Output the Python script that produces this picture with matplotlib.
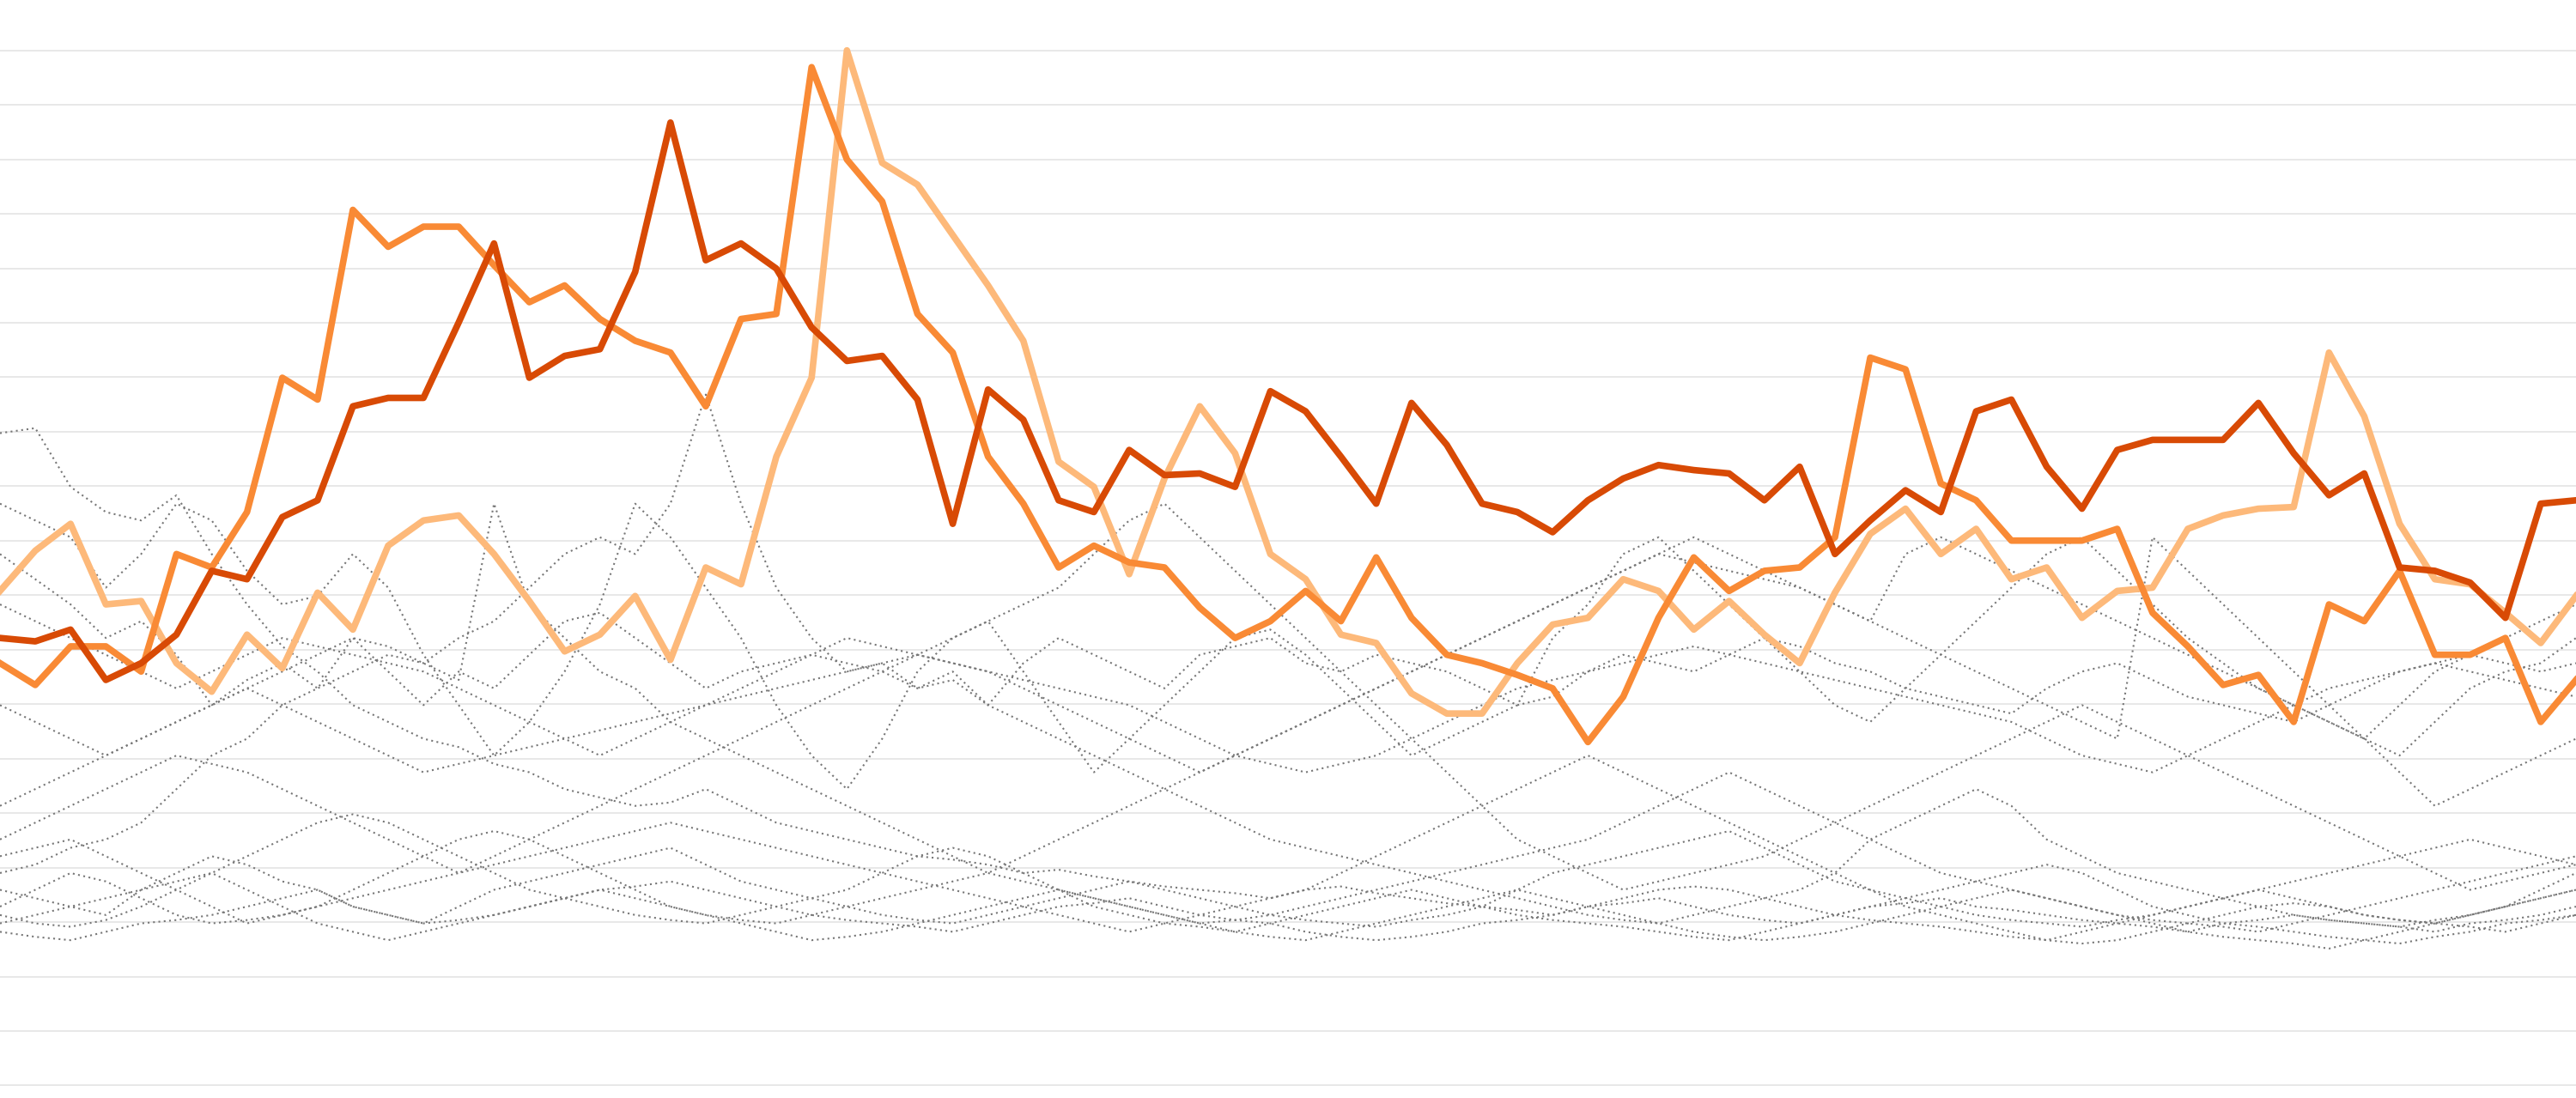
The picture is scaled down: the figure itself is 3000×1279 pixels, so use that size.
import matplotlib
matplotlib.use("Agg")
import matplotlib.pyplot as plt
import numpy as np

dark = [380,382,375,405,395,378,340,345,308,298,242,237,237,192,145,225,212,208,162,73,155,145,160,195,215,212,238,312,232,250,298,305,268,283,282,290,233,245,272,300,240,265,300,305,317,298,285,277,280,282,298,278,330,310,292,305,245,238,278,303,268,262,262,262,240,270,295,282,338,340,347,368,300,298]
mid = [395,408,385,385,400,330,338,305,225,238,125,147,135,135,158,180,170,190,203,210,242,190,187,40,95,120,187,210,272,300,338,325,335,338,362,380,370,352,370,332,368,390,395,402,410,442,415,368,332,352,340,338,320,213,220,288,298,322,322,322,315,365,385,408,402,430,360,370,340,390,390,380,430,405]
light = [352,328,312,360,358,395,412,378,398,353,375,325,310,307,330,358,388,378,355,393,338,348,272,225,30,97,110,140,170,203,275,290,342,285,242,270,330,345,378,383,413,425,425,395,372,368,345,352,375,358,378,395,353,318,303,330,315,345,338,368,352,350,315,307,303,302,210,248,312,345,348,365,383,355]

grays = [
[258,255,290,305,310,295,330,360,385,400,420,430,440,445,455,460,470,475,480,478,470,480,490,495,500,505,510,512,515,520,518,522,525,528,530,532,535,530,528,532,535,538,540,542,545,540,538,535,540,545,548,550,545,540,538,535,540,542,545,548,550,552,555,550,548,545,548,550,552,555,550,548,545,540],
[520,515,505,500,490,470,450,440,420,410,400,390,395,380,370,350,330,320,330,300,235,300,350,380,400,395,410,400,420,430,440,450,460,470,480,490,500,505,510,515,520,525,530,535,540,545,548,550,545,540,535,530,520,500,490,480,470,480,500,510,520,525,530,535,540,545,548,550,552,548,545,540,535,530],
[330,345,360,380,370,390,420,405,395,410,380,400,420,400,410,390,370,365,380,395,410,400,395,390,395,400,410,405,420,395,380,390,400,410,390,385,380,395,400,390,395,400,410,420,415,400,390,395,400,390,380,385,395,400,410,415,420,425,410,400,395,405,415,420,425,430,420,410,400,395,390,395,400,395],
[300,310,320,350,330,300,310,340,360,355,330,350,390,420,450,430,400,360,300,320,350,380,420,450,470,440,400,380,370,400,430,460,440,420,400,380,375,390,410,430,450,440,430,420,380,360,330,320,340,360,380,400,420,430,410,390,370,350,330,320,340,360,380,395,410,420,430,440,450,430,410,400,395,380],
[530,535,540,545,530,520,510,515,525,530,540,545,550,540,530,525,520,515,510,505,515,525,530,535,540,545,548,550,545,540,535,530,525,530,535,540,545,548,550,552,548,545,540,530,520,515,510,505,500,495,505,515,525,530,535,540,545,548,550,552,548,545,540,535,530,535,540,545,548,550,545,540,530,520],
[545,550,552,548,540,530,520,510,500,490,485,490,500,510,520,530,535,540,545,548,550,545,540,535,530,520,510,505,510,520,530,540,545,550,552,555,550,545,540,535,530,535,540,545,548,550,552,555,558,560,555,550,545,540,535,530,525,520,515,520,530,540,545,550,552,555,558,560,562,558,555,550,548,545],
[480,470,460,450,440,430,420,410,400,390,380,385,395,405,300,360,380,400,410,430,440,450,460,470,480,490,500,510,520,510,500,490,480,470,460,450,440,430,420,410,400,390,380,370,360,350,340,330,320,330,340,350,360,370,380,390,400,410,420,430,440,320,340,360,380,400,420,440,460,480,470,460,450,440],
[510,505,500,510,520,530,540,550,545,540,535,530,525,520,515,510,505,500,495,490,495,500,505,510,515,520,525,530,535,540,545,550,555,550,545,540,535,530,520,510,500,490,480,470,460,450,460,470,480,490,500,510,520,530,540,545,550,555,560,555,550,545,540,535,530,525,520,515,510,505,500,505,510,515],
[420,430,440,450,440,430,420,410,420,430,440,450,460,455,450,445,440,435,430,425,420,415,410,405,400,395,390,395,400,405,410,415,420,430,440,450,455,460,455,450,440,430,420,410,405,400,395,390,385,390,395,400,405,410,415,420,425,430,440,450,455,460,450,440,430,420,410,405,400,395,400,405,410,415],
[555,558,560,555,550,548,545,540,535,530,540,545,550,548,545,540,535,530,528,525,530,535,540,545,548,550,552,555,550,545,540,538,535,540,545,548,550,555,558,560,558,555,550,548,545,540,535,530,528,530,535,540,545,548,550,552,555,558,560,562,560,555,550,545,540,538,540,545,548,550,552,555,550,545],
[500,490,480,470,460,450,455,460,470,480,490,500,510,520,510,500,490,480,470,460,450,440,430,420,410,400,390,380,370,360,350,330,310,300,320,340,360,380,400,420,440,460,480,500,510,520,530,525,520,515,510,500,490,480,470,460,450,440,430,420,430,440,450,460,470,480,490,500,510,520,530,525,520,515],
[540,530,520,525,535,545,550,548,545,540,530,520,510,500,495,500,510,520,530,540,545,548,550,545,540,535,530,525,520,525,530,535,540,545,550,548,545,540,535,530,525,520,515,510,505,500,490,480,470,460,470,480,490,500,510,520,525,530,535,540,545,548,550,552,555,550,545,540,535,530,525,520,515,510],
[360,370,380,390,400,410,400,390,380,385,390,395,400,410,420,430,440,450,440,430,420,410,400,390,380,385,390,395,400,410,420,430,440,450,460,450,440,430,420,410,400,390,380,370,360,350,340,330,335,340,345,350,360,370,330,320,330,340,350,360,370,380,390,400,410,420,430,440,420,400,390,380,370,360],
[550,545,540,535,530,525,520,530,540,550,555,560,555,550,545,540,535,530,535,540,545,550,555,560,558,555,550,545,540,535,530,535,540,545,550,555,558,560,555,550,545,540,535,530,535,540,545,550,555,558,560,558,555,550,545,540,535,530,535,540,545,550,555,558,560,562,565,560,555,550,545,540,535,530],
]
grid_levels = [30 + 32.45 * k for k in range(20)]

fig = plt.figure(figsize=(30, 12.79), dpi=100)
ax = fig.add_axes([0, 0, 1, 1])
for g in grid_levels:
    ax.axhline(g, color="#e6e6e6", lw=1.3, zorder=0)
for s in grays:
    ax.plot(np.arange(len(s)), s, color="#777777", lw=1.5, ls=(0, (1, 2)), zorder=1)
for s, c in [(light, "#fdb97a"), (mid, "#f98a35"), (dark, "#d84a05")]:
    ax.plot(np.arange(len(s)), s, color=c, lw=5.5, zorder=3)
ax.set_xlim(0, 73)
ax.set_ylim(654, 0)
ax.axis("off")
fig.savefig("out.png", dpi=100)
